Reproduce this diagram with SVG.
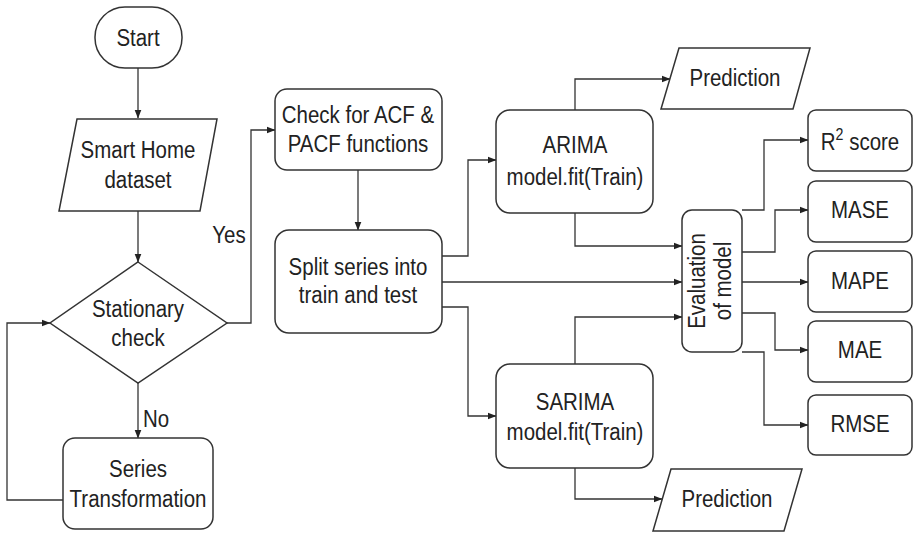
<svg xmlns="http://www.w3.org/2000/svg" width="916" height="533" viewBox="0 0 916 533">
<defs>
<marker id="ah" markerWidth="9" markerHeight="8" refX="8.5" refY="4" orient="auto" markerUnits="userSpaceOnUse">
<path d="M0,0.5 L9,4 L0,7.5 z" fill="#222"/>
</marker>
</defs>
<style>
.n{fill:#fff;stroke:#333;stroke-width:1.5}
.t{font-family:"Liberation Sans",Arial,sans-serif;font-size:23px;fill:#222;text-anchor:middle}
.c{fill:none;stroke:#333;stroke-width:1.3;marker-end:url(#ah)}
</style>
<rect width="916" height="533" fill="#fff"/>
<g id="connectors">
<path class="c" d="M138 68 V118"/>
<path class="c" d="M138 211 V262"/>
<path class="c" d="M138 383 V438"/>
<path class="c" d="M63 500 H7 V323 H50"/>
<path class="c" d="M227 323 H251 V130 H275"/>
<path class="c" d="M358 170 V230"/>
<path class="c" d="M442 256 H468 V160 H496"/>
<path class="c" d="M442 282 H682"/>
<path class="c" d="M442 307 H468 V416 H496"/>
<path class="c" d="M575 110 V79 H670"/>
<path class="c" d="M575 213 V246 H682"/>
<path class="c" d="M575 364 V317 H682"/>
<path class="c" d="M575 468 V499 H662"/>
<path class="c" d="M742 210 H764 V140 H808"/>
<path class="c" d="M742 252 H775 V210 H808"/>
<path class="c" d="M742 282 H808"/>
<path class="c" d="M742 313 H775 V350 H808"/>
<path class="c" d="M742 352 H764 V425 H808"/>
<text class="t" transform="translate(229,243) scale(0.89,1)">Yes</text>
<text class="t" transform="translate(156,427) scale(0.89,1)">No</text>
</g>
<g id="start">
<rect class="n" x="95" y="7" width="87" height="61" rx="30"/>
<text class="t" transform="translate(138,46) scale(0.89,1)">Start</text>
</g>
<g id="dataset">
<polygon class="n" points="77,119 217,119 200,211 59,211"/>
<text class="t" transform="translate(138,158) scale(0.89,1)">Smart Home</text>
<text class="t" transform="translate(138,188) scale(0.89,1)">dataset</text>
</g>
<g id="stationary">
<polygon class="n" points="138,262 227,323 138,383 50,323"/>
<text class="t" transform="translate(138,317) scale(0.89,1)">Stationary</text>
<text class="t" transform="translate(138,346) scale(0.89,1)">check</text>
</g>
<g id="transformation">
<rect class="n" x="63" y="438" width="150" height="91" rx="12"/>
<text class="t" transform="translate(138,477) scale(0.89,1)">Series</text>
<text class="t" transform="translate(138,507) scale(0.89,1)">Transformation</text>
</g>
<g id="acf">
<rect class="n" x="275" y="89" width="167" height="81" rx="12"/>
<text class="t" transform="translate(358,123) scale(0.89,1)">Check for ACF &amp;</text>
<text class="t" transform="translate(358,152) scale(0.89,1)">PACF functions</text>
</g>
<g id="split">
<rect class="n" x="275" y="230" width="167" height="103" rx="14"/>
<text class="t" transform="translate(358,275) scale(0.89,1)">Split series into</text>
<text class="t" transform="translate(358,303) scale(0.89,1)">train and test</text>
</g>
<g id="arima">
<rect class="n" x="496" y="110" width="157" height="103" rx="14"/>
<text class="t" transform="translate(575,153) scale(0.89,1)">ARIMA</text>
<text class="t" transform="translate(575,185) scale(0.89,1)">model.fit(Train)</text>
</g>
<g id="sarima">
<rect class="n" x="496" y="364" width="157" height="104" rx="14"/>
<text class="t" transform="translate(575,410) scale(0.89,1)">SARIMA</text>
<text class="t" transform="translate(575,440) scale(0.89,1)">model.fit(Train)</text>
</g>
<g id="prediction1">
<polygon class="n" points="679,48 810,48 793,109 661,109"/>
<text class="t" transform="translate(735,86) scale(0.89,1)">Prediction</text>
</g>
<g id="prediction2">
<polygon class="n" points="671,469 802,469 784,531 653,531"/>
<text class="t" transform="translate(727,507) scale(0.89,1)">Prediction</text>
</g>
<g id="evaluation">
<rect class="n" x="682" y="210" width="60" height="142" rx="10"/>
<text class="t" transform="translate(705,281) rotate(-90) scale(0.89,1)">Evaluation</text>
<text class="t" transform="translate(731,281) rotate(-90) scale(0.89,1)">of model</text>
</g>
<g id="r2">
<rect class="n" x="808" y="110" width="104" height="61" rx="8"/>
<text class="t" transform="translate(860,150) scale(0.89,1)">R<tspan dy="-10" font-size="16">2</tspan><tspan dy="10"> score</tspan></text>
</g>
<g id="mase">
<rect class="n" x="808" y="181" width="104" height="61" rx="8"/>
<text class="t" transform="translate(860,218) scale(0.89,1)">MASE</text>
</g>
<g id="mape">
<rect class="n" x="808" y="251" width="104" height="61" rx="8"/>
<text class="t" transform="translate(860,289) scale(0.89,1)">MAPE</text>
</g>
<g id="mae">
<rect class="n" x="808" y="321" width="104" height="61" rx="8"/>
<text class="t" transform="translate(860,358) scale(0.89,1)">MAE</text>
</g>
<g id="rmse">
<rect class="n" x="808" y="395" width="104" height="60" rx="8"/>
<text class="t" transform="translate(860,432) scale(0.89,1)">RMSE</text>
</g>
</svg>
